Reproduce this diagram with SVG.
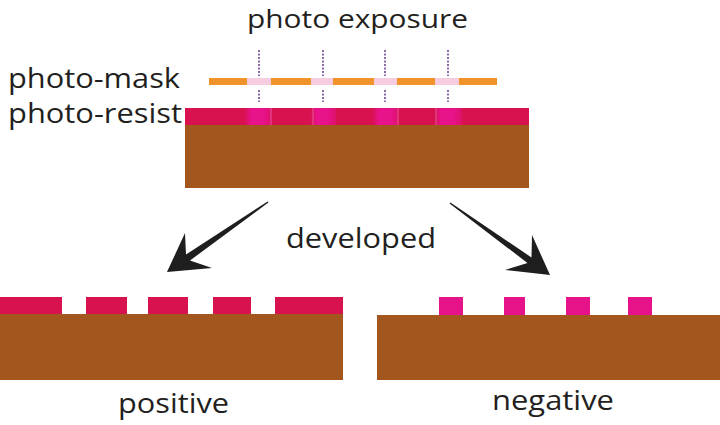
<svg xmlns="http://www.w3.org/2000/svg" width="720" height="425" viewBox="0 0 720 425">
<style>
.lbl{font-family:"Open Sans","Noto Sans","Liberation Sans",sans-serif;font-size:27px;fill:#231f20}
.sub{fill:#a4561f}
.res{fill:#d7124f}
.neg{fill:#e5128a}
.mask{fill:#f0932a}
.open{fill:#f6cde0}
.ray{stroke:#8a6aa8;stroke-width:2;stroke-dasharray:2 1.5;fill:none}
.arrow{fill:#1e1e1e}
</style>
<defs>
<linearGradient id="exp" x1="0" x2="1" y1="0" y2="0">
<stop offset="0" stop-color="#d7124f"/>
<stop offset="0.25" stop-color="#e8128a"/>
<stop offset="0.7" stop-color="#e8128a"/>
<stop offset="1" stop-color="#dc1268"/>
</linearGradient>
</defs>
<rect width="720" height="425" fill="#ffffff"/>

<g id="title"><text class="lbl" x="247" y="28" font-size="26" style="font-size:26px" textLength="221" lengthAdjust="spacingAndGlyphs">photo exposure</text></g>

<g id="label-mask"><text class="lbl" x="8" y="88" textLength="172" lengthAdjust="spacingAndGlyphs">photo-mask</text></g>
<g id="label-resist"><text class="lbl" x="8" y="123" textLength="174" lengthAdjust="spacingAndGlyphs">photo-resist</text></g>

<g id="light-rays">
<line class="ray" x1="259" y1="50" x2="259" y2="76"/>
<line class="ray" x1="323" y1="50" x2="323" y2="76"/>
<line class="ray" x1="385" y1="50" x2="385" y2="76"/>
<line class="ray" x1="448" y1="50" x2="448" y2="76"/>
<line class="ray" x1="259" y1="90" x2="259" y2="102"/>
<line class="ray" x1="323" y1="90" x2="323" y2="102"/>
<line class="ray" x1="385" y1="90" x2="385" y2="102"/>
<line class="ray" x1="448" y1="90" x2="448" y2="102"/>
</g>

<g id="photo-mask">
<rect class="open" x="209" y="78" width="288" height="7"/>
<rect class="mask" x="209" y="78" width="38" height="7"/>
<rect class="mask" x="271" y="78" width="40" height="7"/>
<rect class="mask" x="333" y="78" width="41" height="7"/>
<rect class="mask" x="397" y="78" width="38" height="7"/>
<rect class="mask" x="459" y="78" width="38" height="7"/>
</g>

<g id="wafer-exposed">
<rect class="sub" x="185" y="125" width="344" height="63"/>
<rect class="res" x="185" y="108" width="344" height="17"/>
<rect fill="url(#exp)" x="244" y="108" width="28" height="17"/>
<rect fill="url(#exp)" x="310" y="108" width="26" height="17"/>
<rect fill="url(#exp)" x="372" y="108" width="27" height="17"/>
<rect fill="url(#exp)" x="434" y="108" width="28" height="17"/>
<g stroke="#f08cb0" stroke-width="0.8" opacity="0.7">
<line x1="271" y1="108" x2="271" y2="125"/>
<line x1="313" y1="108" x2="313" y2="125"/>
<line x1="398" y1="108" x2="398" y2="125"/>
<line x1="436" y1="108" x2="436" y2="125"/>
</g>
</g>

<g id="connectors">
<polygon class="arrow" points="267.6,201.5 186,254.5 185,233 167,272 212,268 190,260.5 268.4,202.5"/>
<polygon class="arrow" points="450.4,202.5 531.5,257.5 532,235 550,275 505,270 527.5,263 449.6,203.5"/>
</g>

<g id="label-developed"><text class="lbl" x="286" y="248" textLength="150" lengthAdjust="spacingAndGlyphs">developed</text></g>

<g id="wafer-positive">
<rect class="sub" x="0" y="314" width="343" height="66"/>
<rect class="res" x="0" y="297" width="62" height="17"/>
<rect class="res" x="86" y="297" width="41" height="17"/>
<rect class="res" x="148" y="297" width="40" height="17"/>
<rect class="res" x="213" y="297" width="38" height="17"/>
<rect class="res" x="275" y="297" width="68" height="17"/>
</g>
<g id="label-positive"><text class="lbl" x="118" y="413" textLength="111" lengthAdjust="spacingAndGlyphs">positive</text></g>

<g id="wafer-negative">
<rect class="sub" x="377" y="315" width="343" height="65"/>
<rect class="neg" x="439" y="297" width="24" height="18"/>
<rect class="neg" x="504" y="297" width="21" height="18"/>
<rect class="neg" x="566" y="297" width="24" height="18"/>
<rect class="neg" x="628" y="297" width="24" height="18"/>
</g>
<g id="label-negative"><text class="lbl" x="492" y="410" textLength="122" lengthAdjust="spacingAndGlyphs">negative</text></g>
</svg>
